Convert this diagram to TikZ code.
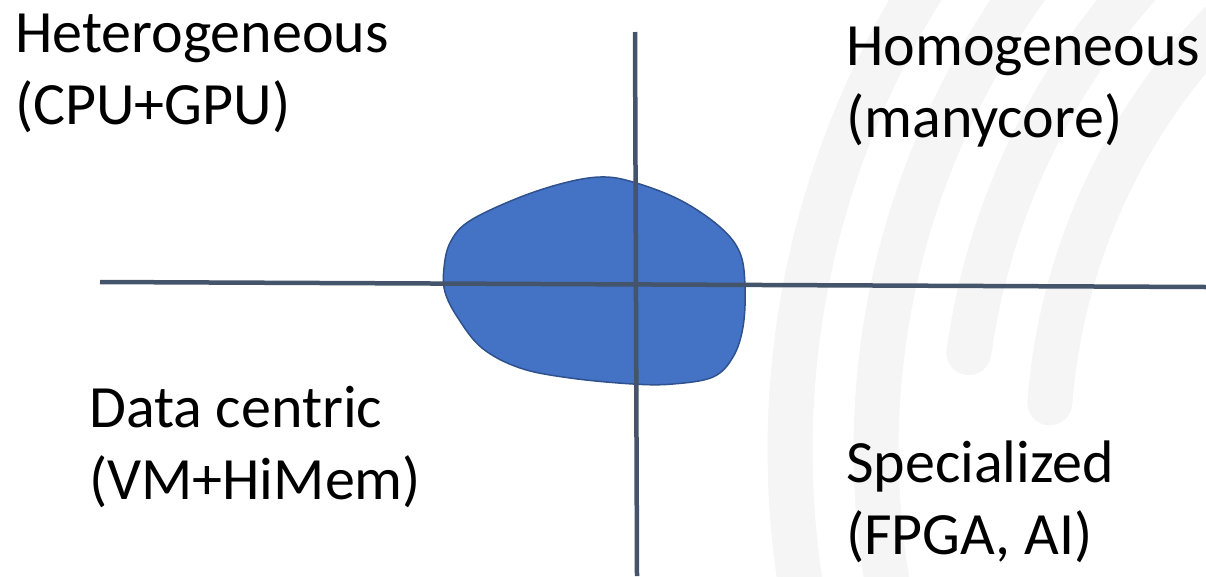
\documentclass[tikz,border=0pt]{standalone}
\usepackage{fontspec}
\setmainfont{Carlito}
\definecolor{axiscol}{HTML}{44546A}
\definecolor{blobfill}{HTML}{4472C4}
\definecolor{blobline}{HTML}{2F528F}
\definecolor{wmark}{HTML}{F5F5F5}
\begin{document}
\begin{tikzpicture}[x=1pt,y=-1pt,
  axisline/.style={draw=axiscol,line width=4.5pt},
  stripe/.style={draw=wmark,line width=45pt,line cap=round},
  lbl/.style={font=\fontsize{60}{72}\selectfont,align=left,inner sep=0pt,anchor=north west,text=black}]
\useasboundingbox (0,0) rectangle (1206,576);
\begin{scope}
\clip (0,0) rectangle (1206,576);
\draw[stripe] plot[domain=165:215,samples=60] ({1662+872*cos(\x)},{450+872*sin(\x)});
\draw[stripe] plot[domain=165:222,samples=60] ({1662+786*cos(\x)},{450+786*sin(\x)});
\draw[stripe] plot[domain=188:230,samples=60] ({1662+700*cos(\x)},{450+700*sin(\x)});
\draw[stripe] plot[domain=184.4:235,samples=60] ({1662+614*cos(\x)},{450+614*sin(\x)});
\end{scope}
\draw[fill=blobfill,draw=blobline,line width=1.5pt] plot[smooth cycle,tension=0.6] coordinates {
 (444,268) (450,243) (468,222) (513,200) (560,184) (600,177) (633,182) (680,200) (720,227) (740,253)
 (745,287) (743,327) (733,357) (713,377) (673,384) (633,384) (570,378) (520,368) (482,348) (458,318) (445,292)};
\coordinate (hl) at (100,282);
\coordinate (hr) at (1206,287);
\coordinate (vt) at (635,32);
\coordinate (vb) at (637,576);
\draw[axisline] (hl) -- (hr);
\draw[axisline] (vt) -- (vb);
\node[lbl] (het) at (15,14) {Heterogeneous\\(CPU+GPU)};
\node[lbl] (hom) at (846,27) {Homogeneous\\(manycore)};
\node[lbl] (dat) at (89,386) {Data centric\\(VM+HiMem)};
\node[lbl] (spe) at (846,441) {Specialized\\(FPGA, AI)};
\end{tikzpicture}
\end{document}
